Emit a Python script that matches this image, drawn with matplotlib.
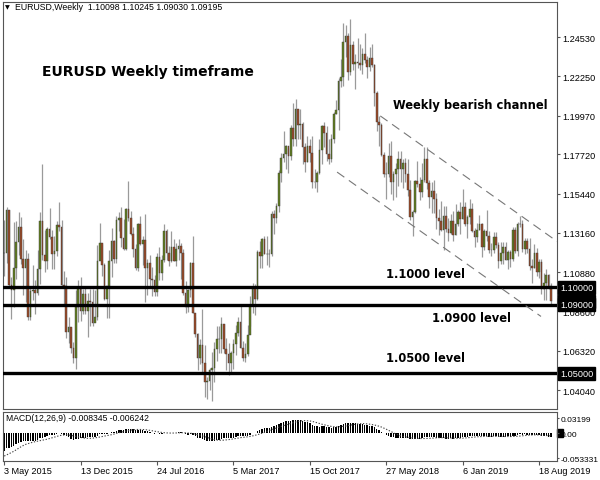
import numpy as np
import matplotlib
matplotlib.use("Agg")
import matplotlib.pyplot as plt
import matplotlib.transforms as mtransforms

# Weekly EURUSD candles, 3 May 2015 -> 22 Sep 2019
first_open = 1.1198
highs = [
    1.1391, 1.1467, 1.1447, 1.1060, 1.1380, 1.1385, 1.1436, 1.1410, 1.1278, 1.1215,
    1.1200, 1.0998, 1.1129, 1.1045, 1.1215, 1.1440, 1.1714, 1.1332, 1.1349, 1.1460,
    1.1330, 1.1296, 1.1387, 1.1495, 1.1388, 1.1093, 1.1058, 1.0829, 1.0762, 1.0681,
    1.0982, 1.1043, 1.1060, 1.0988, 1.0994, 1.0970, 1.0993, 1.0990, 1.0985, 1.1246,
    1.1376, 1.1250, 1.1140, 1.1010, 1.1218, 1.1342, 1.1277, 1.1412, 1.1438, 1.1465,
    1.1395, 1.1461, 1.1616, 1.1445, 1.1349, 1.1250, 1.1373, 1.1416, 1.1299, 1.1427,
    1.1165, 1.1185, 1.1120, 1.1073, 1.1198, 1.1234, 1.1187, 1.1366, 1.1340, 1.1241,
    1.1327, 1.1281, 1.1257, 1.1280, 1.1258, 1.1220, 1.1039, 1.0991, 1.1146, 1.1300,
    1.0825, 1.0736, 1.0701, 1.0874, 1.0668, 1.0479, 1.0530, 1.0626, 1.0685, 1.0776,
    1.0775, 1.0828, 1.0785, 1.0706, 1.0679, 1.0630, 1.0700, 1.0783, 1.0830, 1.0906,
    1.0690, 1.0679, 1.0779, 1.0950, 1.1023, 1.1021, 1.1214, 1.1268, 1.1285, 1.1296,
    1.1296, 1.1225, 1.1445, 1.1446, 1.1490, 1.1683, 1.1777, 1.1910, 1.1829, 1.1810,
    1.1940, 1.2070, 1.2092, 1.2035, 1.2035, 1.1960, 1.1835, 1.1880, 1.1860, 1.1880,
    1.1688, 1.1675, 1.1862, 1.1945, 1.1961, 1.1938, 1.1863, 1.1888, 1.2020, 1.2089,
    1.2217, 1.2323, 1.2537, 1.2520, 1.2476, 1.2555, 1.2430, 1.2355, 1.2446, 1.2413,
    1.2388, 1.2476, 1.2345, 1.2396, 1.2414, 1.2298, 1.2139, 1.1997, 1.1955, 1.1784,
    1.1726, 1.1839, 1.1852, 1.1676, 1.1720, 1.1791, 1.1791, 1.1745, 1.1750, 1.1745,
    1.1623, 1.1446, 1.1624, 1.1733, 1.1641, 1.1722, 1.1815, 1.1815, 1.1623, 1.1609,
    1.1621, 1.1548, 1.1455, 1.1500, 1.1472, 1.1472, 1.1402, 1.1425, 1.1442, 1.1486,
    1.1446, 1.1497, 1.1570, 1.1497, 1.1420, 1.1514, 1.1488, 1.1345, 1.1372, 1.1419,
    1.1375, 1.1339, 1.1448, 1.1325, 1.1256, 1.1324, 1.1324, 1.1265, 1.1266, 1.1263,
    1.1264, 1.1214, 1.1215, 1.1348, 1.1348, 1.1382, 1.1412, 1.1393, 1.1286, 1.1286,
    1.1285, 1.1162, 1.1250, 1.1230, 1.1162, 1.1164, 1.1085, 1.1109, 1.1075, 1.10245,
]
lows = [
    1.1063, 1.1142, 1.1010, 1.0819, 1.0888, 1.1050, 1.1190, 1.1133, 1.0955, 1.0916,
    1.0809, 1.0808, 1.0926, 1.0847, 1.0958, 1.1017, 1.1157, 1.1087, 1.1105, 1.1281,
    1.1106, 1.1107, 1.1180, 1.1328, 1.1003, 1.0897, 1.0705, 1.0674, 1.0617, 1.0558,
    1.0524, 1.0796, 1.0805, 1.0845, 1.0848, 1.0711, 1.0776, 1.0778, 1.0810, 1.0810,
    1.1157, 1.1067, 1.0925, 1.0822, 1.0822, 1.1058, 1.1144, 1.1144, 1.1326, 1.1234,
    1.1215, 1.1217, 1.1385, 1.1305, 1.1177, 1.1098, 1.1096, 1.1245, 1.1130, 1.0912,
    1.0956, 1.0998, 1.0952, 1.0952, 1.0952, 1.1045, 1.1045, 1.1148, 1.1157, 1.1122,
    1.1149, 1.1150, 1.1121, 1.1156, 1.1047, 1.0958, 1.0851, 1.0858, 1.0943, 1.0850,
    1.0710, 1.0518, 1.0553, 1.0505, 1.0366, 1.0351, 1.0405, 1.0340, 1.0453, 1.0575,
    1.0621, 1.0617, 1.0619, 1.0520, 1.0493, 1.0495, 1.0525, 1.0605, 1.0715, 1.0650,
    1.0570, 1.0569, 1.0600, 1.0778, 1.0851, 1.0840, 1.0925, 1.1110, 1.1110, 1.1195,
    1.1132, 1.1119, 1.1180, 1.1312, 1.1371, 1.1440, 1.1612, 1.1729, 1.1688, 1.1662,
    1.1741, 1.1823, 1.1823, 1.1860, 1.1861, 1.1717, 1.1669, 1.1730, 1.1730, 1.1574,
    1.1574, 1.1553, 1.1655, 1.1716, 1.1812, 1.1731, 1.1718, 1.1730, 1.1840, 1.2005,
    1.1915, 1.2165, 1.2166, 1.2335, 1.2206, 1.2235, 1.2260, 1.2154, 1.2272, 1.2260,
    1.2240, 1.2300, 1.2215, 1.2255, 1.2280, 1.2055, 1.1910, 1.1822, 1.1762, 1.1640,
    1.1510, 1.1640, 1.1541, 1.1508, 1.1527, 1.1591, 1.1613, 1.1575, 1.1614, 1.1530,
    1.1389, 1.1300, 1.1430, 1.1582, 1.1508, 1.1526, 1.1612, 1.1570, 1.1462, 1.1431,
    1.1432, 1.1336, 1.1302, 1.1325, 1.1216, 1.1322, 1.1267, 1.1310, 1.1269, 1.1301,
    1.1354, 1.1309, 1.1395, 1.1354, 1.1289, 1.1366, 1.1321, 1.1234, 1.1261, 1.1332,
    1.1176, 1.1216, 1.1268, 1.1201, 1.1183, 1.1200, 1.1226, 1.1110, 1.1134, 1.1135,
    1.1158, 1.1105, 1.1116, 1.1154, 1.1202, 1.1181, 1.1349, 1.1207, 1.1193, 1.1202,
    1.1101, 1.1027, 1.1110, 1.1066, 1.1052, 1.0963, 1.0926, 1.0927, 1.0990, 1.09030,
]
closes = [
    1.1200, 1.1447, 1.1015, 1.0986, 1.1114, 1.1265, 1.1350, 1.1165, 1.1112, 1.1164,
    1.0827, 1.0980, 1.0985, 1.0968, 1.1107, 1.1383, 1.1185, 1.1150, 1.1339, 1.1293,
    1.1195, 1.1210, 1.1360, 1.1350, 1.1015, 1.1005, 1.0740, 1.0770, 1.0648, 1.0592,
    1.0886, 1.0990, 1.0865, 1.0960, 1.0860, 1.0920, 1.0915, 1.0795, 1.0830, 1.1155,
    1.1255, 1.1130, 1.0930, 1.1005, 1.1150, 1.1270, 1.1165, 1.1390, 1.1400, 1.1285,
    1.1225, 1.1455, 1.1405, 1.1310, 1.1225, 1.1115, 1.1365, 1.1250, 1.1275, 1.1115,
    1.1140, 1.1050, 1.1040, 1.0975, 1.1175, 1.1085, 1.1160, 1.1325, 1.1200, 1.1155,
    1.1235, 1.1155, 1.1225, 1.1240, 1.1200, 1.0970, 1.0885, 1.0985, 1.1140, 1.0850,
    1.0730, 1.0590, 1.0665, 1.0560, 1.0450, 1.0455, 1.0520, 1.0530, 1.0640, 1.0700,
    1.0700, 1.0785, 1.0640, 1.0615, 1.0560, 1.0620, 1.0670, 1.0735, 1.0800, 1.0650,
    1.0590, 1.0615, 1.0725, 1.0895, 1.0995, 1.0935, 1.1205, 1.1180, 1.1280, 1.1195,
    1.1195, 1.1195, 1.1425, 1.1400, 1.1470, 1.1665, 1.1750, 1.1775, 1.1820, 1.1760,
    1.1925, 1.1860, 1.2035, 1.1945, 1.1950, 1.1815, 1.1730, 1.1820, 1.1780, 1.1610,
    1.1610, 1.1665, 1.1795, 1.1935, 1.1895, 1.1775, 1.1745, 1.1860, 1.2005, 1.2030,
    1.2200, 1.2220, 1.2425, 1.2460, 1.2250, 1.2405, 1.2295, 1.2310, 1.2305, 1.2290,
    1.2355, 1.2320, 1.2280, 1.2330, 1.2290, 1.2130, 1.1960, 1.1940, 1.1770, 1.1655,
    1.1660, 1.1765, 1.1610, 1.1655, 1.1685, 1.1745, 1.1685, 1.1720, 1.1655, 1.1565,
    1.1410, 1.1440, 1.1620, 1.1600, 1.1555, 1.1625, 1.1745, 1.1605, 1.1525, 1.1560,
    1.1510, 1.1400, 1.1385, 1.1335, 1.1415, 1.1340, 1.1315, 1.1385, 1.1305, 1.1370,
    1.1440, 1.1395, 1.1465, 1.1365, 1.1410, 1.1455, 1.1325, 1.1295, 1.1335, 1.1365,
    1.1235, 1.1325, 1.1300, 1.1215, 1.1215, 1.1295, 1.1245, 1.1150, 1.1200, 1.1235,
    1.1160, 1.1205, 1.1165, 1.1335, 1.1210, 1.1370, 1.1370, 1.1225, 1.1270, 1.1220,
    1.1125, 1.1110, 1.1200, 1.1090, 1.1145, 1.0990, 1.1027, 1.1073, 1.1010, 1.09195,
]
# weekly closes Jul 2014 - Apr 2015, only used to warm up the MACD
warmup_close = [
    1.3605, 1.3525, 1.3465, 1.3425, 1.3410, 1.3400, 1.3240, 1.3130, 1.2950, 1.2965,
    1.2830, 1.2685, 1.2525, 1.2630, 1.2760, 1.2670, 1.2525, 1.2455, 1.2525, 1.2390,
    1.2450, 1.2290, 1.2465, 1.2225, 1.2185, 1.2000, 1.1840, 1.1565, 1.1205, 1.1290,
    1.1315, 1.1390, 1.1385, 1.1195, 1.0840, 1.0495, 1.0825, 1.0890, 1.0970, 1.0600,
    1.0810, 1.0875, 1.1200,
]

date_idx = [0, 32, 64, 96, 128, 160, 192, 224]
date_labels = ["3 May 2015", "13 Dec 2015", "24 Jul 2016", "5 Mar 2017",
               "15 Oct 2017", "27 May 2018", "6 Jan 2019", "18 Aug 2019"]
price_ticks = [1.04040, 1.06320, 1.08600, 1.10880, 1.13160, 1.15440,
               1.17720, 1.19970, 1.22250, 1.24530]
levels = [1.1000, 1.0900, 1.0500]
level_text = ["1.1000 level", "1.0900 level", "1.0500 level"]
# channel lines (bar index, price)
upper_chan = ([157.5, 232.0], [1.1995, 1.1262])
lower_chan = ([139.4, 224.8], [1.1669, 1.0831])

small = "Liberation Sans"

opens = [first_open] + closes[:-1]
n = len(closes)
x = np.arange(n)
o = np.array(opens); h = np.array(highs); l = np.array(lows); c = np.array(closes)

# MACD(12,26,9) as MetaTrader does it (EMA main, SMA signal)
allc = np.array(warmup_close + closes)
def ema(v, p):
    a = 2.0 / (p + 1)
    out = np.zeros(len(v))
    out[0] = v[0]
    for i in range(1, len(v)):
        out[i] = a * v[i] + (1 - a) * out[i - 1]
    return out
macd_all = ema(allc, 12) - ema(allc, 26)
sig_all = np.convolve(macd_all, np.ones(9) / 9, mode="full")[:len(macd_all)]
macd = macd_all[len(warmup_close):]
sig = sig_all[len(warmup_close):]

W, H = 600, 481
fig = plt.figure(figsize=(6, 4.81), dpi=100)
ax = fig.add_axes([3 / W, 1 - 410 / H, 554 / W, 407 / H])
axm = fig.add_axes([3 / W, 1 - 462 / H, 554 / W, 49 / H])

bull = "#62801f"
bear = "#9e4a27"
up = c >= o
ax.vlines(x, l, h, color="#9a9a9a", lw=0.9, zorder=2)
ax.bar(x[up], (c - o)[up], bottom=o[up], width=0.68, color=bull,
       edgecolor="#3c3c3c", lw=0.3, zorder=3)
ax.bar(x[~up], (c - o)[~up], bottom=o[~up], width=0.68, color=bear,
       edgecolor="#3c3c3c", lw=0.3, zorder=3)

for lv in levels:
    ax.axhline(lv, color="black", lw=2.4, zorder=4)

ax.plot(*upper_chan, color="#777777", lw=0.8, ls=(0, (8, 5)), zorder=4)
ax.plot(*lower_chan, color="#777777", lw=0.8, ls=(0, (8, 5)), zorder=4)

ax.set_xlim(-0.5, 231.5)
ax.set_ylim(1.02938, 1.26562)
ax.yaxis.tick_right()
ax.set_yticks(price_ticks)
ax.set_yticklabels(["%.5f" % t for t in price_ticks], family=small)
ax.tick_params(axis="y", labelsize=6.6, length=2.5, pad=1.5, color="#555555")
ax.set_xticks([])

tr = mtransforms.blended_transform_factory(ax.transAxes, ax.transData)
box = dict(facecolor="black", edgecolor="black", pad=1.3)
ax.text(1.006, 1.09195, "1.09195", transform=tr, fontsize=6.6, color="white",
        family=small, va="center", ha="left", bbox=box, clip_on=False, zorder=5)
for lv in levels:
    ax.text(1.006, lv, "%.5f" % lv, transform=tr, fontsize=6.6, color="white",
            family=small, va="center", ha="left", bbox=box, clip_on=False,
            zorder=6)

for sp in ax.spines.values():
    sp.set_color("#555555")
    sp.set_linewidth(0.8)

# annotations
fig.text(148 / W, 1 - 72 / H, "EURUSD Weekly timeframe", fontsize=10,
         fontweight="bold", ha="center", va="center")
fig.text(470 / W, 1 - 106 / H, "Weekly bearish channel", fontsize=8.3,
         fontweight="bold", ha="center", va="center")
fig.text(426 / W, 1 - 274 / H, level_text[0], fontsize=8.3,
         fontweight="bold", ha="center", va="center")
fig.text(472 / W, 1 - 318 / H, level_text[1], fontsize=8.3,
         fontweight="bold", ha="center", va="center")
fig.text(425 / W, 1 - 358 / H, level_text[2], fontsize=8.3,
         fontweight="bold", ha="center", va="center")

fig.text(5 / W, 1 - 8 / H, "\u25bc", fontsize=4.5, va="center")
fig.text(15 / W, 1 - 8 / H, "EURUSD,Weekly  1.10098 1.10245 1.09030 1.09195",
         fontsize=6.3, family=small, va="center")

# MACD panel
axm.bar(x, macd, width=0.6, color="black", zorder=2)
axm.plot(x, sig, color="#444444", lw=0.8, ls=(0, (1.2, 1.5)), zorder=3)
axm.set_xlim(-0.5, 231.5)
axm.set_ylim(-0.0597, 0.0448)
axm.yaxis.tick_right()
axm.set_yticks([0.03199, 0.0, -0.053331])
axm.set_yticklabels(["0.03199", "0.00", "-0.053331"], family=small)
axm.tick_params(axis="y", labelsize=6.0, length=1.5, pad=0.8, color="#555555")
axm.set_xticks(date_idx)
axm.set_xticklabels([])
axm.tick_params(axis="x", length=3, color="#555555")
for i, lab in zip(date_idx, date_labels):
    axm.text(i, -0.19, lab, transform=mtransforms.blended_transform_factory(
        axm.transData, axm.transAxes), fontsize=6.6, family=small,
        ha="left", va="center")
trm = mtransforms.blended_transform_factory(axm.transAxes, axm.transData)
axm.add_patch(plt.Rectangle((1.0, -0.008), 0.011, 0.016, transform=trm,
                            color="black", clip_on=False))
axm.text(0.005, 0.88, "MACD(12,26,9) -0.008345 -0.006242", transform=axm.transAxes,
         fontsize=6.2, family=small, va="center")
for sp in axm.spines.values():
    sp.set_color("#555555")
    sp.set_linewidth(0.8)

fig.savefig("out.png", dpi=100)
